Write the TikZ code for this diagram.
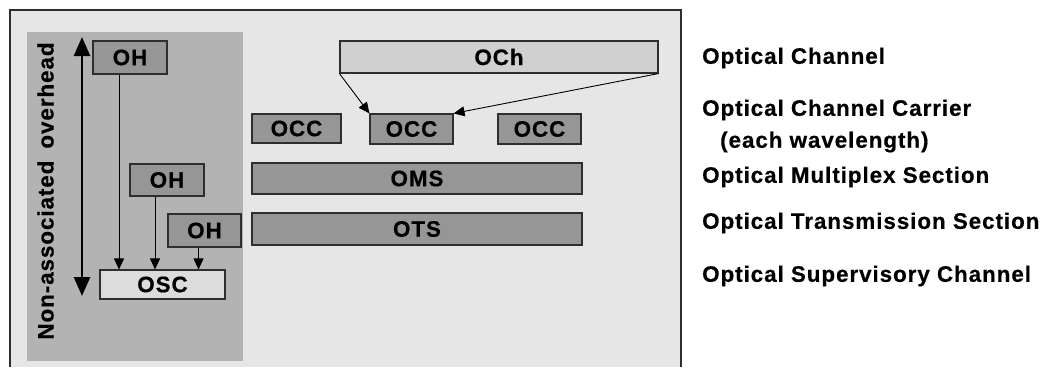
\documentclass[tikz,border=0pt]{standalone}
\usepackage{fontspec}
\setmainfont{Liberation Sans}[LetterSpace=4.2, BoldFeatures={FakeBold=0.5}]
\usetikzlibrary{arrows.meta}
\definecolor{pagebg}{HTML}{E6E6E6}
\definecolor{panelgray}{HTML}{B3B3B3}
\definecolor{boxdark}{HTML}{969696}
\definecolor{boxlight}{HTML}{D0D0D0}
\definecolor{osclight}{HTML}{DCDCDC}
\definecolor{edgegray}{HTML}{2E2E2E}
\tikzset{
  lab/.style={font=\fontsize{22.4}{26}\selectfont\bfseries},
  layer/.style={lab, draw=edgegray, line width=1.1pt, inner sep=0pt, fill=boxdark},
  thin arrow/.style={-{Triangle[length=11pt,width=10pt]}, line width=0.9pt},
  big arrow/.style={{Triangle[length=19pt,width=16pt]}-{Triangle[length=19pt,width=16pt]}, line width=2.6pt},
  legend/.style={lab, anchor=west, inner sep=0pt},
}
\begin{document}
\begin{tikzpicture}[x=1pt,y=-1pt]
\useasboundingbox (0,0) rectangle (1046,367);
% frame and shaded overhead panel
\fill[pagebg] (10,10) rectangle (681,367);
\draw[edgegray, line width=1.6pt] (10,367) -- (10,10) -- (681,10) -- (681,367);
\fill[panelgray] (27,32) rectangle (243,361);

% overhead side
\node[layer, minimum width=74pt, minimum height=33pt] (oh1) at (130,57.5) {OH};
\node[layer, minimum width=74pt, minimum height=32pt] (oh2) at (167,180) {OH};
\node[layer, minimum width=73pt, minimum height=33pt] (oh3) at (204.5,230.5) {OH};
\node[layer, fill=osclight, minimum width=125pt, minimum height=29pt] (osc) at (162.5,284.5) {OSC};

\draw[thin arrow] ([xshift=-11pt]oh1.south) -- ([xshift=-11pt]oh1.south |- osc.north);
\draw[thin arrow] ([xshift=-12pt]oh2.south) -- ([xshift=-12pt]oh2.south |- osc.north);
\draw[thin arrow] ([xshift=-6pt]oh3.south) -- ([xshift=-6pt]oh3.south |- osc.north);

\coordinate (ovtop) at (82,37);
\coordinate (ovbot) at (82,296);
\draw[big arrow] (ovbot) -- (ovtop);
\node[lab, rotate=90, inner sep=0pt] (ovlabel) at (45.5,191) {Non-associated\hspace{12pt}overhead};

% layered structure
\node[layer, fill=boxlight, minimum width=318pt, minimum height=32pt] (och) at (499,57) {OCh};
\node[layer, minimum width=89pt, minimum height=29pt] (occa) at (296.5,128.5) {OCC};
\node[layer, minimum width=83pt, minimum height=30pt] (occb) at (411.5,129) {OCC};
\node[layer, minimum width=83pt, minimum height=30pt] (occc) at (539.5,129) {OCC};
\node[layer, minimum width=330pt, minimum height=31pt] (oms) at (417,178.5) {OMS};
\node[layer, minimum width=330pt, minimum height=32pt] (ots) at (417,229) {OTS};

\draw[thin arrow] (och.south west) -- (occb.north west);
\draw[thin arrow] (och.south east) -- (occb.north east);

% legend
\node[legend] (l1) at (702,58) {Optical Channel};
\node[legend] (l2) at (702,110) {Optical Channel Carrier};
\node[legend] (l2b) at (720,142) {(each wavelength)};
\node[legend] (l3) at (702,177) {Optical Multiplex Section};
\node[legend] (l4) at (702,223) {Optical Transmission Section};
\node[legend] (l5) at (702,276) {Optical Supervisory Channel};
\end{tikzpicture}
\end{document}
